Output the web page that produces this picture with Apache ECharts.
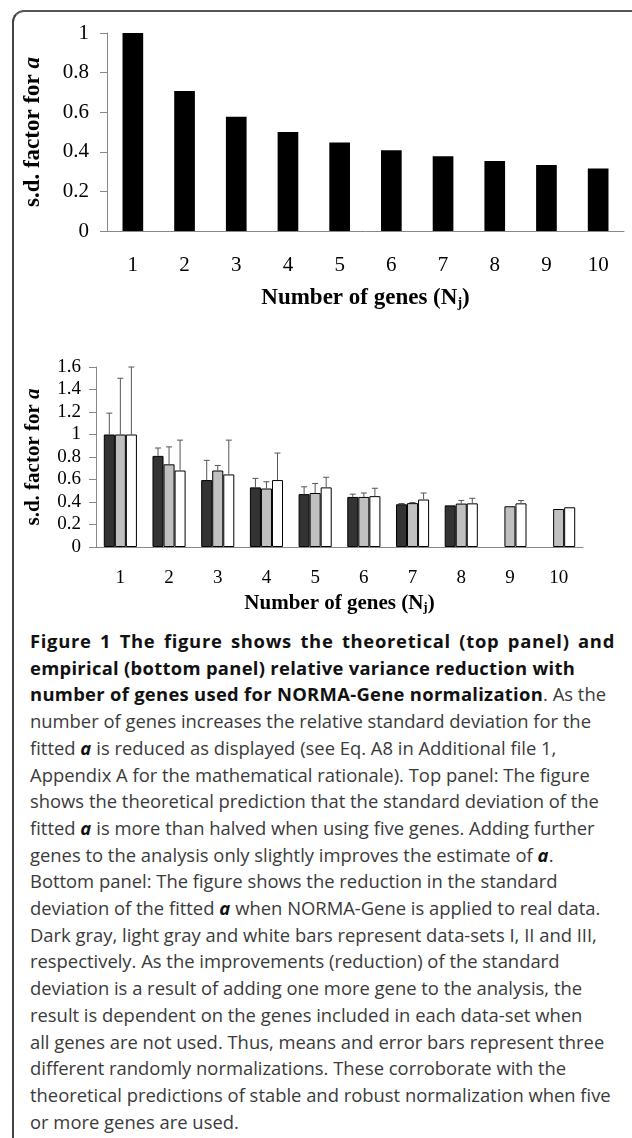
<!DOCTYPE html>
<html>
<head>
<meta charset="utf-8">
<script src="https://cdn.jsdelivr.net/npm/echarts@6/dist/echarts.min.js"></script>
<style>
  html, body { margin: 0; padding: 0; background: #fff; }
  #wrap { position: relative; width: 632px; height: 1138px; overflow: hidden; }
  #frame {
    position: absolute; left: 12px; top: 10px; width: 700px; height: 1200px;
    border-left: 2px solid #444; border-top: 2px solid #555;
    border-top-left-radius: 12px; box-sizing: border-box;
  }
  #chart { position: absolute; left: 0; top: 0; width: 632px; height: 620px; }
  #caption {
    position: absolute; left: 30px; top: 628px;
    font-family: "Open Sans", sans-serif; font-size: 18.4px; line-height: 26.7px;
    color: #3a3a3a; white-space: nowrap;
  }
  #caption b { color: #111; letter-spacing: 0.3px; }
  #caption .just {
    width: 585px; white-space: normal;
    text-align: justify; text-align-last: justify;
  }
  #caption .just b { letter-spacing: 0.7px; }
</style>
</head>
<body>
<div id="wrap">
  <div id="frame"></div>
  <div id="chart"></div>
  <div id="caption">
    <div class="just"><b>Figure 1 The figure shows the theoretical (top panel) and</b></div>
    <b>empirical (bottom panel) relative variance reduction with</b><br>
    <b>number of genes used for NORMA-Gene normalization</b>. As the<br>
    number of genes increases the relative standard deviation for the<br>
    fitted <b><i>a</i></b> is reduced as displayed (see Eq. A8 in Additional file 1,<br>
    Appendix A for the mathematical rationale). Top panel: The figure<br>
    shows the theoretical prediction that the standard deviation of the<br>
    fitted <b><i>a</i></b> is more than halved when using five genes. Adding further<br>
    genes to the analysis only slightly improves the estimate of <b><i>a</i></b>.<br>
    Bottom panel: The figure shows the reduction in the standard<br>
    deviation of the fitted <b><i>a</i></b> when NORMA-Gene is applied to real data.<br>
    Dark gray, light gray and white bars represent data-sets I, II and III,<br>
    respectively. As the improvements (reduction) of the standard<br>
    deviation is a result of adding one more gene to the analysis, the<br>
    result is dependent on the genes included in each data-set when<br>
    all genes are not used. Thus, means and error bars represent three<br>
    different randomly normalizations. These corroborate with the<br>
    theoretical predictions of stable and robust normalization when five<br>
    or more genes are used.
  </div>
</div>
<script>
// number of genes
var genes = ['1', '2', '3', '4', '5', '6', '7', '8', '9', '10'];

// top panel: theoretical s.d. factor
var theory = [1, 0.707, 0.577, 0.5, 0.447, 0.408, 0.378, 0.354, 0.333, 0.316];

// bottom panel: empirical means, data-sets I, II, III
var setI   = [1.0, 0.81, 0.595, 0.53, 0.47, 0.445, 0.38, 0.37, '-', '-'];
var setII  = [1.0, 0.735, 0.68, 0.52, 0.48, 0.445, 0.39, 0.386, 0.362, 0.338];
var setIII = [1.0, 0.68, 0.645, 0.595, 0.53, 0.452, 0.422, 0.388, 0.388, 0.353];

// upper error bar lengths
var errI   = [0.19, 0.07, 0.175, 0.08, 0.065, 0.025, 0.006, 0, 0, 0];
var errII  = [0.5, 0.155, 0.045, 0.06, 0.085, 0.035, 0.005, 0.028, 0, 0];
var errIII = [0.6, 0.27, 0.305, 0.24, 0.09, 0.07, 0.058, 0.045, 0.025, 0];

var serif = 'Liberation Serif';
var catGap = 0.32;

function errData(vals, errs) {
  var out = [];
  for (var i = 0; i < vals.length; i++) {
    if (vals[i] === '-' || !errs[i]) continue;
    out.push([i, vals[i], vals[i] + errs[i]]);
  }
  return out;
}

// custom series drawing one-sided (upper) error bars over slot 0/1/2
function errSeries(vals, errs, slot) {
  return {
    type: 'custom',
    xAxisIndex: 1,
    yAxisIndex: 1,
    z: 5,
    clip: false,
    data: errData(vals, errs),
    renderItem: function (params, api) {
      var lo = api.coord([api.value(0), api.value(1)]);
      var hi = api.coord([api.value(0), api.value(2)]);
      var band = api.size([1, 0])[0];
      var bw = band * (1 - catGap) / 3;
      var cx = lo[0] + (slot - 1) * bw;
      var cap = 3;
      var st = { stroke: '#555', lineWidth: 1 };
      return {
        type: 'group',
        children: [
          { type: 'line', shape: { x1: cx, y1: lo[1], x2: cx, y2: hi[1] }, style: st },
          { type: 'line', shape: { x1: cx - cap, y1: hi[1], x2: cx + cap, y2: hi[1] }, style: st }
        ]
      };
    }
  };
}

var yName = '{b|s.d. factor for }{i|a}';
var xName = '{b|Number of genes (N}{s|j}{b|)}';

function nameStyle(size) {
  return {
    rich: {
      b: { fontFamily: serif, fontWeight: 'bold', fontSize: size, color: '#000' },
      i: { fontFamily: serif, fontWeight: 'bold', fontStyle: 'italic', fontSize: size, color: '#000' },
      s: { fontFamily: serif, fontWeight: 'bold', fontSize: Math.round(size * 0.62), color: '#000',
           verticalAlign: 'bottom' }
    }
  };
}

var axisLine = { lineStyle: { color: '#888', width: 1 } };
var axisTick = { length: 7, lineStyle: { color: '#888', width: 1 } };

var myChart = echarts.init(document.getElementById('chart'));
var option = {
  backgroundColor: 'transparent',
  animation: false,
  grid: [
    { left: 107, top: 33, width: 517, height: 198 },
    { left: 96, top: 367, width: 487, height: 180 }
  ],
  xAxis: [
    {
      gridIndex: 0, type: 'category', data: genes,
      axisLine: axisLine, axisTick: axisTick,
      axisLabel: { fontFamily: serif, fontSize: 21, color: '#000', margin: 24 },
      name: xName, nameLocation: 'middle', nameGap: 56, nameTextStyle: nameStyle(23)
    },
    {
      gridIndex: 1, type: 'category', data: genes,
      axisLine: axisLine, axisTick: axisTick,
      axisLabel: { fontFamily: serif, fontSize: 19, color: '#000', margin: 22 },
      name: xName, nameLocation: 'middle', nameGap: 46, nameTextStyle: nameStyle(21)
    }
  ],
  yAxis: [
    {
      gridIndex: 0, type: 'value', min: 0, max: 1, interval: 0.2,
      axisLine: { show: true, lineStyle: { color: '#888', width: 1 } },
      axisTick: { show: true, length: 7, lineStyle: { color: '#888', width: 1 } },
      splitLine: { show: false },
      axisLabel: { fontFamily: serif, fontSize: 21, color: '#000', margin: 18 },
      name: yName, nameLocation: 'middle', nameRotate: 90, nameGap: 62, nameTextStyle: nameStyle(23)
    },
    {
      gridIndex: 1, type: 'value', min: 0, max: 1.6, interval: 0.2,
      axisLine: { show: true, lineStyle: { color: '#888', width: 1 } },
      axisTick: { show: true, length: 7, lineStyle: { color: '#888', width: 1 } },
      splitLine: { show: false },
      axisLabel: { fontFamily: serif, fontSize: 19, color: '#000', margin: 15 },
      name: yName, nameLocation: 'middle', nameRotate: 90, nameGap: 52, nameTextStyle: nameStyle(21)
    }
  ],
  series: [
    {
      name: 'theory', type: 'bar', xAxisIndex: 0, yAxisIndex: 0,
      barCategoryGap: '60%', itemStyle: { color: '#000' }, data: theory
    },
    {
      name: 'I', type: 'bar', xAxisIndex: 1, yAxisIndex: 1,
      barGap: '0%', barCategoryGap: (catGap * 100) + '%',
      itemStyle: { color: '#333333', borderColor: '#000', borderWidth: 1 }, data: setI
    },
    {
      name: 'II', type: 'bar', xAxisIndex: 1, yAxisIndex: 1,
      barGap: '0%', barCategoryGap: (catGap * 100) + '%',
      itemStyle: { color: '#c0c0c0', borderColor: '#000', borderWidth: 1 }, data: setII
    },
    {
      name: 'III', type: 'bar', xAxisIndex: 1, yAxisIndex: 1,
      barGap: '0%', barCategoryGap: (catGap * 100) + '%',
      itemStyle: { color: '#ffffff', borderColor: '#000', borderWidth: 1 }, data: setIII
    },
    errSeries(setI, errI, 0),
    errSeries(setII, errII, 1),
    errSeries(setIII, errIII, 2)
  ]
};
myChart.setOption(option);
</script>
</body>
</html>
